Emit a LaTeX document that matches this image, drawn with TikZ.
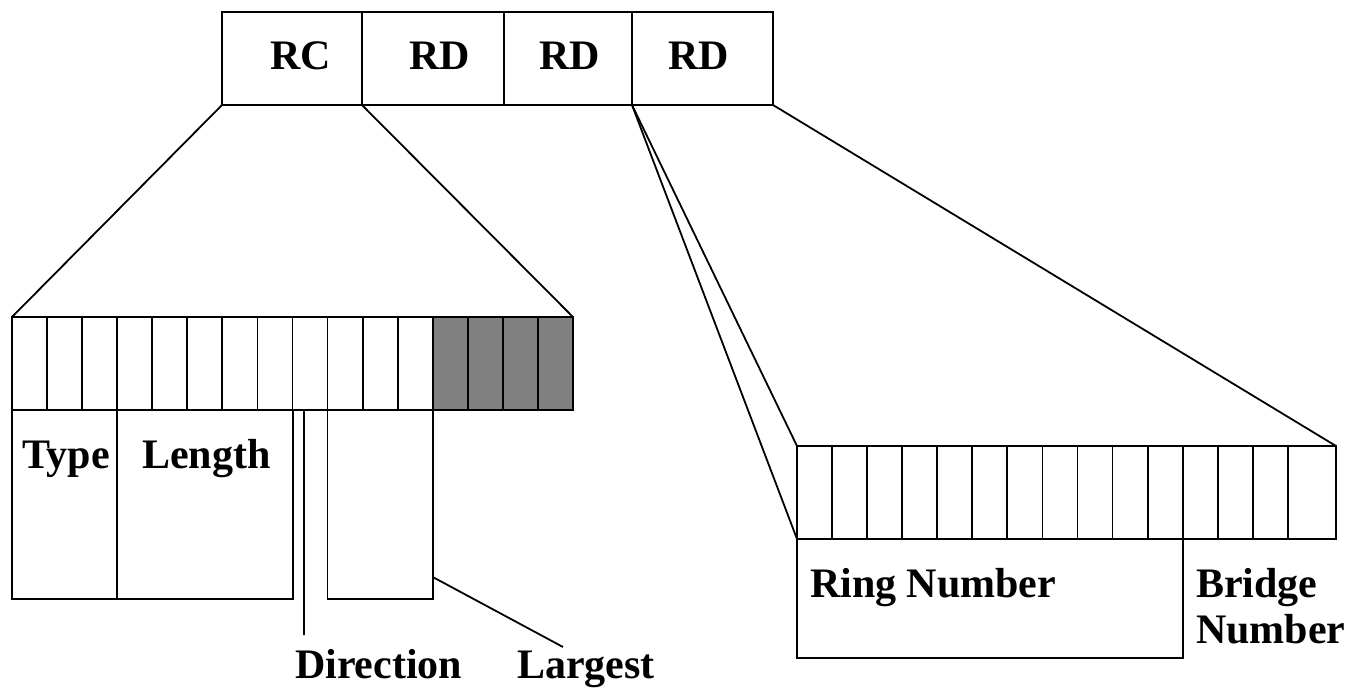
\documentclass[tikz,border=0pt]{standalone}
\usepackage{fontspec}
\setmainfont{Liberation Serif}
\usepackage{tikz}

\begin{document}
\begin{tikzpicture}[x=1pt,y=-1pt,line width=1.8pt]
\tikzstyle{every node}=[inner sep=0pt,outer sep=0pt];
\tikzstyle{box}=[draw,rectangle,anchor=north west,minimum height=93pt];
\tikzstyle{cell}=[box,minimum width=35.06pt];
\tikzstyle{field}=[draw,rectangle,anchor=north west,minimum height=189pt];
\tikzstyle{lbl}=[anchor=base west,font=\bfseries\fontsize{42}{46}\selectfont];
\useasboundingbox (0,0) rectangle (1366,688);
% routing field
%   nodes
    \node[box,minimum width=140pt] (rc) at (222,12) {};
    \node[box,minimum width=142pt] (rd1) at (362,12) {};
    \node[box,minimum width=128pt] (rd2) at (504,12) {};
    \node[box,minimum width=141pt] (rd3) at (632,12) {};
    \node[lbl] (rctext) at (270,69) {RC};
    \node[lbl] (rd1text) at (409,69) {RD};
    \node[lbl] (rd2text) at (539,69) {RD};
    \node[lbl] (rd3text) at (668,69) {RD};
% routing control bits
    \foreach \i in {0,...,11}
      \node[cell] (l\i) at ({12+35.06*\i},317) {};
    \foreach \i in {12,...,15}
      \node[cell,fill=gray] (l\i) at ({12+35.06*\i},317) {};
    \node[field,minimum width=105pt] (type) at (l0.south west) {};
    \node[field,minimum width=175.5pt] (length) at (l3.south west) {};
    \node[field,minimum width=105.2pt] (largest) at (l9.south west) {};
    \coordinate (dirend) at (304,635);
    \coordinate (lgend) at (563,647);
    \node[lbl] (typetext) at (22,468) {Type};
    \node[lbl] (lengthtext) at (142,468) {Length};
    \node[lbl] (dirtext) at (295,678) {Direction};
    \node[lbl] (lgtext) at (517,678) {Largest};
% route designator bits
    \foreach \i in {0,...,13}
      \node[cell] (r\i) at ({797+35.06*\i},446) {};
    \node[cell,minimum width=48.2pt] (r14) at (1287.8,446) {};
    \node[draw,rectangle,anchor=north west,minimum width=386pt,minimum height=119pt] (ring) at (r0.south west) {};
    \node[lbl] (ringtext) at (810,597) {Ring Number};
    \node[lbl] (bridgetext) at (1196,597) {Bridge};
    \node[lbl] (bridgenum) at (1196,643) {Number};
%   edges
    \draw (rc.south west) -- (l0.north west);
    \draw (rc.south east) -- (l15.north east);
    \draw (rd3.south west) -- (r0.north west);
    \draw (rd3.south west) -- (r0.south west);
    \draw (rd3.south east) -- (r14.north east);
    \draw ([xshift=11.5pt]l8.south west) -- (dirend);
    \draw ([yshift=22pt]largest.south east) -- (lgend);
\end{tikzpicture}
\end{document}
